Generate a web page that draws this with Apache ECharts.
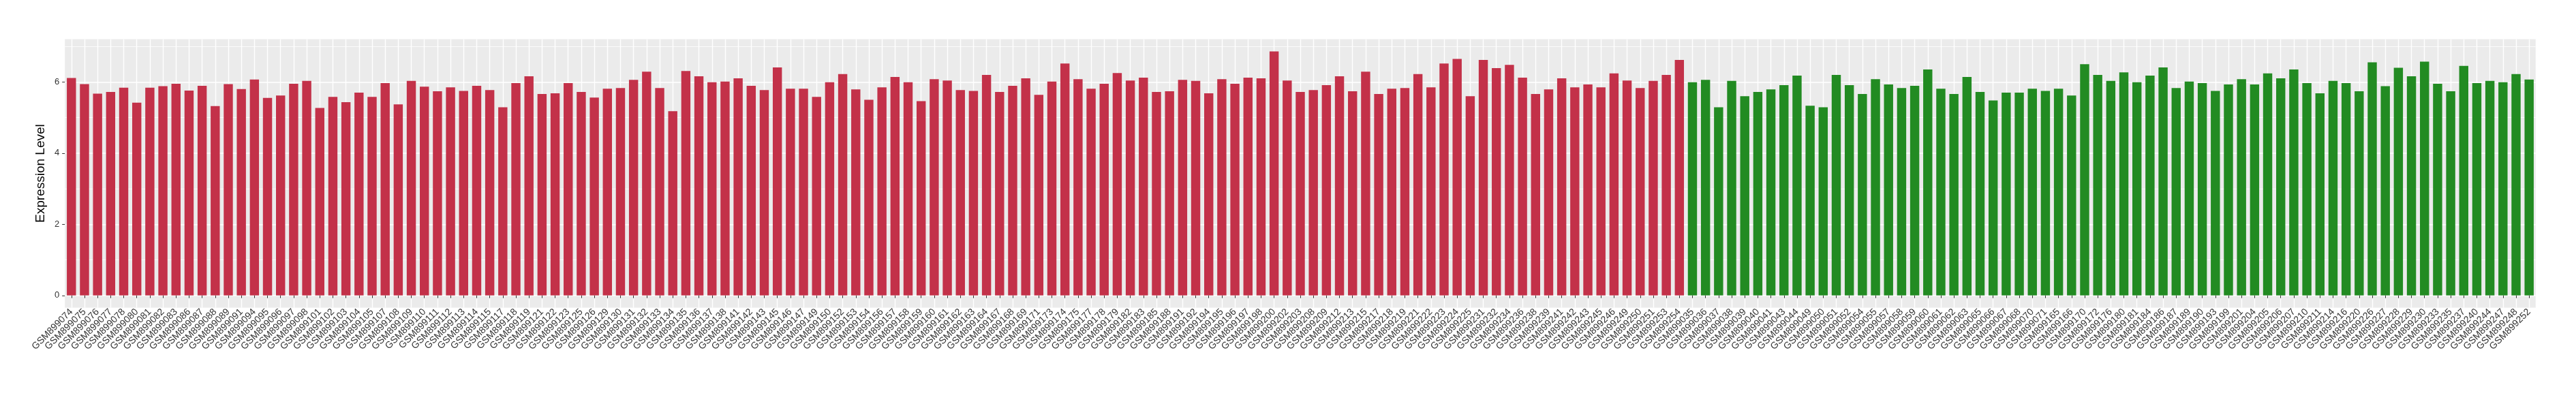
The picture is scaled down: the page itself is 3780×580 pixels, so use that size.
<!DOCTYPE html>
<html>
<head>
<meta charset="utf-8">
<script src="https://cdn.jsdelivr.net/npm/echarts@6/dist/echarts.min.js"></script>
<style>
html,body{margin:0;padding:0;background:#fff;}
#c{width:3780px;height:580px;}
</style>
</head>
<body>
<div id="c"></div>
<script>
// ---- data ----
var redSamples = ["GSM899074","GSM899075","GSM899076","GSM899077","GSM899078","GSM899080","GSM899081","GSM899082","GSM899083","GSM899086","GSM899087","GSM899088","GSM899089","GSM899091","GSM899094","GSM899095","GSM899096","GSM899097","GSM899098","GSM899101","GSM899102","GSM899103","GSM899104","GSM899105","GSM899107","GSM899108","GSM899109","GSM899110","GSM899111","GSM899112","GSM899113","GSM899114","GSM899115","GSM899117","GSM899118","GSM899119","GSM899121","GSM899122","GSM899123","GSM899125","GSM899126","GSM899129","GSM899130","GSM899131","GSM899132","GSM899133","GSM899134","GSM899135","GSM899136","GSM899137","GSM899138","GSM899141","GSM899142","GSM899143","GSM899145","GSM899146","GSM899147","GSM899149","GSM899150","GSM899152","GSM899153","GSM899154","GSM899156","GSM899157","GSM899158","GSM899159","GSM899160","GSM899161","GSM899162","GSM899163","GSM899164","GSM899167","GSM899168","GSM899169","GSM899171","GSM899173","GSM899174","GSM899175","GSM899177","GSM899178","GSM899179","GSM899182","GSM899183","GSM899185","GSM899188","GSM899191","GSM899192","GSM899194","GSM899195","GSM899196","GSM899197","GSM899198","GSM899200","GSM899202","GSM899203","GSM899208","GSM899209","GSM899212","GSM899213","GSM899215","GSM899217","GSM899218","GSM899219","GSM899221","GSM899222","GSM899223","GSM899224","GSM899225","GSM899231","GSM899232","GSM899234","GSM899236","GSM899238","GSM899239","GSM899241","GSM899242","GSM899243","GSM899245","GSM899246","GSM899249","GSM899250","GSM899251","GSM899253","GSM899254"];
var redValues = [6.11,5.94,5.67,5.72,5.84,5.42,5.84,5.88,5.95,5.76,5.89,5.32,5.94,5.80,6.07,5.55,5.62,5.95,6.03,5.27,5.58,5.43,5.70,5.58,5.97,5.37,6.03,5.87,5.74,5.85,5.75,5.89,5.77,5.29,5.97,6.16,5.66,5.68,5.97,5.72,5.56,5.81,5.83,6.06,6.29,5.83,5.18,6.31,6.16,5.99,6.01,6.10,5.89,5.77,6.41,5.81,5.81,5.58,5.99,6.22,5.79,5.50,5.85,6.14,5.99,5.46,6.08,6.04,5.77,5.75,6.20,5.72,5.89,6.10,5.64,6.01,6.52,6.08,5.81,5.95,6.25,6.04,6.12,5.72,5.74,6.06,6.03,5.68,6.08,5.95,6.12,6.10,6.86,6.04,5.72,5.77,5.91,6.16,5.74,6.29,5.66,5.81,5.83,6.22,5.85,6.52,6.65,5.60,6.62,6.39,6.48,6.12,5.66,5.79,6.10,5.85,5.93,5.85,6.24,6.04,5.83,6.03,6.20,6.62];
var greenSamples = ["GSM899035","GSM899036","GSM899037","GSM899038","GSM899039","GSM899040","GSM899041","GSM899043","GSM899044","GSM899049","GSM899050","GSM899051","GSM899052","GSM899054","GSM899055","GSM899057","GSM899058","GSM899059","GSM899060","GSM899061","GSM899062","GSM899063","GSM899065","GSM899066","GSM899067","GSM899068","GSM899070","GSM899071","GSM899165","GSM899166","GSM899170","GSM899172","GSM899176","GSM899180","GSM899181","GSM899184","GSM899186","GSM899187","GSM899189","GSM899190","GSM899193","GSM899199","GSM899201","GSM899204","GSM899205","GSM899206","GSM899207","GSM899210","GSM899211","GSM899214","GSM899216","GSM899220","GSM899226","GSM899227","GSM899228","GSM899229","GSM899230","GSM899233","GSM899235","GSM899237","GSM899240","GSM899244","GSM899247","GSM899248","GSM899252"];
var greenValues = [5.99,6.06,5.29,6.03,5.60,5.72,5.79,5.91,6.18,5.33,5.29,6.20,5.91,5.66,6.08,5.93,5.83,5.89,6.35,5.81,5.66,6.14,5.72,5.48,5.70,5.70,5.81,5.75,5.81,5.62,6.50,6.20,6.03,6.27,5.99,6.18,6.41,5.83,6.01,5.97,5.75,5.93,6.08,5.93,6.24,6.10,6.35,5.97,5.68,6.03,5.97,5.74,6.55,5.88,6.40,6.16,6.57,5.95,5.74,6.45,5.97,6.03,5.99,6.22,6.07];
var yMajorTicks = [0, 2, 4, 6];
var yMinorTicks = [1, 3, 5, 7];
var yTitle = "Expression Level";

// ---- build ----
var RED = '#C33149', GREEN = '#228B22';
var categories = redSamples.concat(greenSamples);
var barData = [];
redValues.forEach(function(v){ barData.push({value: v, itemStyle: {color: RED}}); });
greenValues.forEach(function(v){ barData.push({value: v, itemStyle: {color: GREEN}}); });

var allVals = redValues.concat(greenValues);
var vmax = Math.max.apply(null, allVals);
var yMin = -0.05 * vmax, yMax = 1.05 * vmax;

var FONT = '"Liberation Sans", Arial, Helvetica, sans-serif';
var chart = echarts.init(document.getElementById('c'), null, {renderer: 'canvas'});
chart.setOption({
  animation: false,
  backgroundColor: '#FFFFFF',
  textStyle: {fontFamily: FONT},
  grid: {left: 95.2, right: 59.2, top: 57.5, bottom: 128.3, show: true, backgroundColor: '#EBEBEB', borderWidth: 0, containLabel: false},
  xAxis: {
    type: 'category', data: categories, boundaryGap: true,
    axisLine: {show: false},
    axisTick: {show: true, alignWithLabel: true, interval: 0, length: 4, lineStyle: {color: '#333333', width: 1}},
    axisLabel: {interval: 0, rotate: 45, fontSize: 14, color: '#333333', margin: 4, fontFamily: FONT},
    splitLine: {show: true, interval: 0, alignWithLabel: true, lineStyle: {color: '#FFFFFF', width: 1.4}}
  },
  yAxis: [{
    type: 'value', min: yMin, max: yMax,
    axisLine: {show: false},
    axisTick: {show: true, length: 4, customValues: yMajorTicks, lineStyle: {color: '#333333', width: 1}},
    axisLabel: {customValues: yMajorTicks, fontSize: 13, color: '#333333', margin: 8, fontFamily: FONT},
    splitLine: {show: true, lineStyle: {color: '#FFFFFF', width: 1.5}},
    name: yTitle, nameLocation: 'middle', nameGap: 16, nameRotate: 90,
    nameTextStyle: {fontSize: 19, color: '#000000', fontFamily: FONT}
  }, {
    type: 'value', min: yMin, max: yMax, position: 'left',
    axisLine: {show: false},
    axisTick: {show: false, customValues: yMinorTicks},
    axisLabel: {show: false, customValues: yMinorTicks},
    splitLine: {show: true, lineStyle: {color: '#FFFFFF', width: 0.8}}
  }],
  series: [{
    type: 'bar', data: barData, barWidth: '70%', yAxisIndex: 0, silent: true
  }]
});
</script>
</body>
</html>
